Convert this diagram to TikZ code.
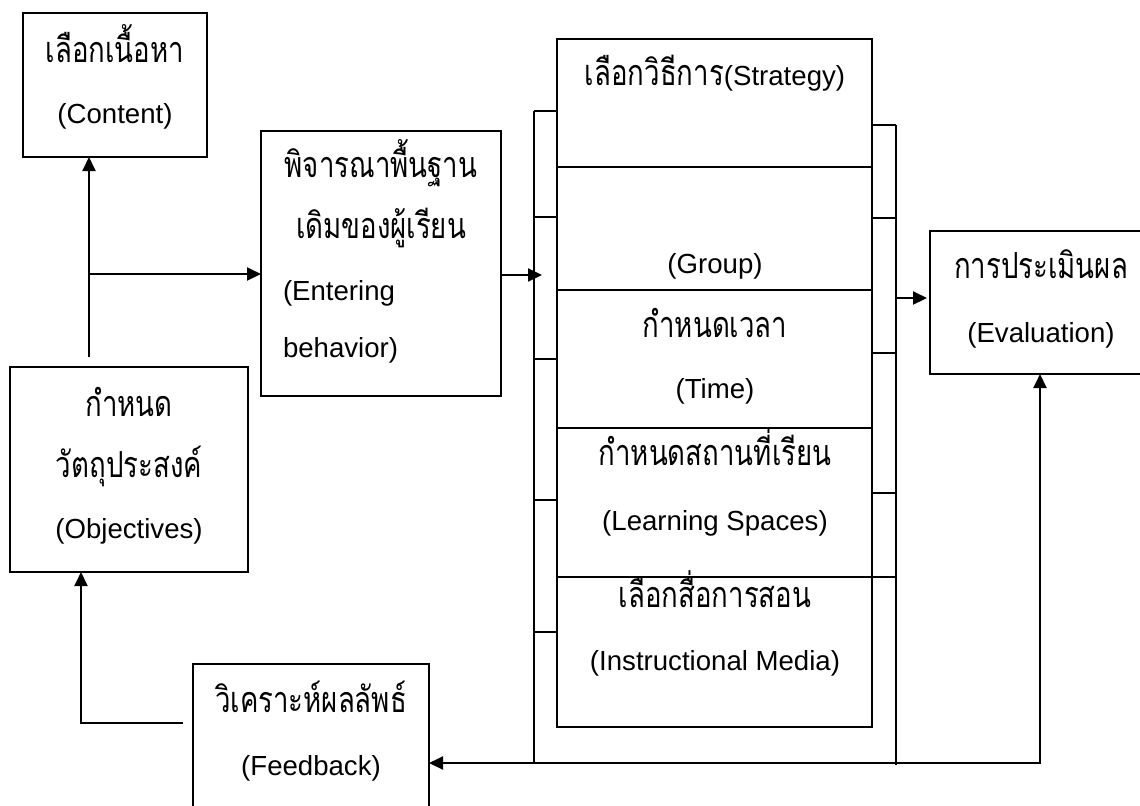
\documentclass[tikz,border=0pt]{standalone}
\usepackage{fontspec}
\setmainfont{Liberation Sans}
\newfontfamily\thai[Script=Thai]{Loma}
\newcommand\thtext[1]{\scalebox{1}[1.3]{\thai #1}}
\usetikzlibrary{arrows.meta}
\begin{document}
\begin{tikzpicture}[x=0.5pt,y=-0.5pt,line width=1pt,
  box/.style={draw,inner sep=0pt,outer sep=0pt,anchor=north west},
  arr/.style={-{Triangle[length=7pt,width=6.5pt]}},
  dblarr/.style={{Triangle[length=7pt,width=6.5pt]}-{Triangle[length=7pt,width=6.5pt]}},
  lbl/.style={anchor=base,inner sep=0pt,font=\fontsize{13.8pt}{16pt}\selectfont}]
\useasboundingbox (0,0) rectangle (1140,805);
% boxes
\node[box,minimum width=92pt,minimum height=72pt] (content) at (23,13) {};
\node[box,minimum width=120pt,minimum height=132.5pt] (enter) at (261,131) {};
\node[box,minimum width=119pt,minimum height=102.5pt] (obj) at (10,367) {};
\node[box,minimum width=157.5pt,minimum height=64pt] (r1) at (557,39) {};
\node[box,minimum width=157.5pt,minimum height=61.5pt] (r2) at (557,167) {};
\node[box,minimum width=157.5pt,minimum height=69pt] (r3) at (557,290) {};
\node[box,minimum width=157.5pt,minimum height=74.5pt] (r4) at (557,428) {};
\node[box,minimum width=157.5pt,minimum height=75pt] (r5) at (557,577) {};
\node[box,minimum width=106pt,minimum height=71.5pt] (eval) at (930,231) {};
\node[box,minimum width=118pt,minimum height=83pt] (fb) at (193,664) {};
% texts
\node[lbl] (tc1) at (115,62) {\thtext{เลือกเนื้อหา}};
\node[lbl] (tc2) at (115,123) {(Content)};
\node[lbl] (te1) at (381,177) {\thtext{พิจารณาพื้นฐาน}};
\node[lbl] (te2) at (381,238) {\thtext{เดิมของผู้เรียน}};
\node[lbl,anchor=base west] (te3) at (282,300) {(Entering};
\node[lbl,anchor=base west] (te4) at (282,357) {behavior)};
\node[lbl] (to1) at (129,416) {\thtext{กำหนด}};
\node[lbl] (to2) at (129,477) {\thtext{วัตถุประสงค์}};
\node[lbl] (to3) at (129,538) {(Objectives)};
\node[lbl] (ts1) at (715,85) {\thtext{เลือกวิธีการ}(Strategy)};
\node[lbl] (tg1) at (715,273) {(Group)};
\node[lbl] (tt1) at (715,337) {\thtext{กำหนดเวลา}};
\node[lbl] (tt2) at (715,398) {(Time)};
\node[lbl] (tl1) at (715,465) {\thtext{กำหนดสถานที่เรียน}};
\node[lbl] (tl2) at (715,530) {(Learning Spaces)};
\node[lbl] (tm1) at (715,607) {\thtext{เลือกสื่อการสอน}};
\node[lbl] (tm2) at (715,670) {(Instructional Media)};
\node[lbl] (tv1) at (1041,278) {\thtext{การประเมินผล}};
\node[lbl] (tv2) at (1041,342) {(Evaluation)};
\node[lbl] (tf1) at (311,712) {\thtext{วิเคราะห์ผลลัพธ์}};
\node[lbl] (tf2) at (311,775) {(Feedback)};
% brackets
\coordinate (lb1) at (534,111);
\coordinate (lb2) at (534,762);
\coordinate (rb1) at (896,125);
\coordinate (rb2) at (896,765);
\draw (lb1) -- (lb2);
\draw (rb1) -- (rb2);
\foreach \yy in {111,217,359,500,632} \draw (534,\yy) -- (557,\yy);
\foreach \yy in {125,218,353,493,577} \draw (872,\yy) -- (896,\yy);
% connectors
\coordinate (j0) at (89,357);
\coordinate (j1) at (89,274);
\draw[arr] (j0) -- (j0 |- content.south);
\draw[arr] (j1) -- (j1 -| enter.west);
\coordinate (ce) at (542,275);
\draw[arr] (ce -| enter.east) -- (ce);
\coordinate (ev) at (927,298);
\draw[arr] (896,298) -- (ev);
\coordinate (cr) at (1040,763);
\draw[dblarr] (cr -| fb.east) -- (cr) -- (cr |- eval.south);
\coordinate (fl) at (183,723);
\coordinate (fc) at (81,723);
\draw[arr] (fl) -- (fc) -- (fc |- obj.south);
\end{tikzpicture}
\end{document}
